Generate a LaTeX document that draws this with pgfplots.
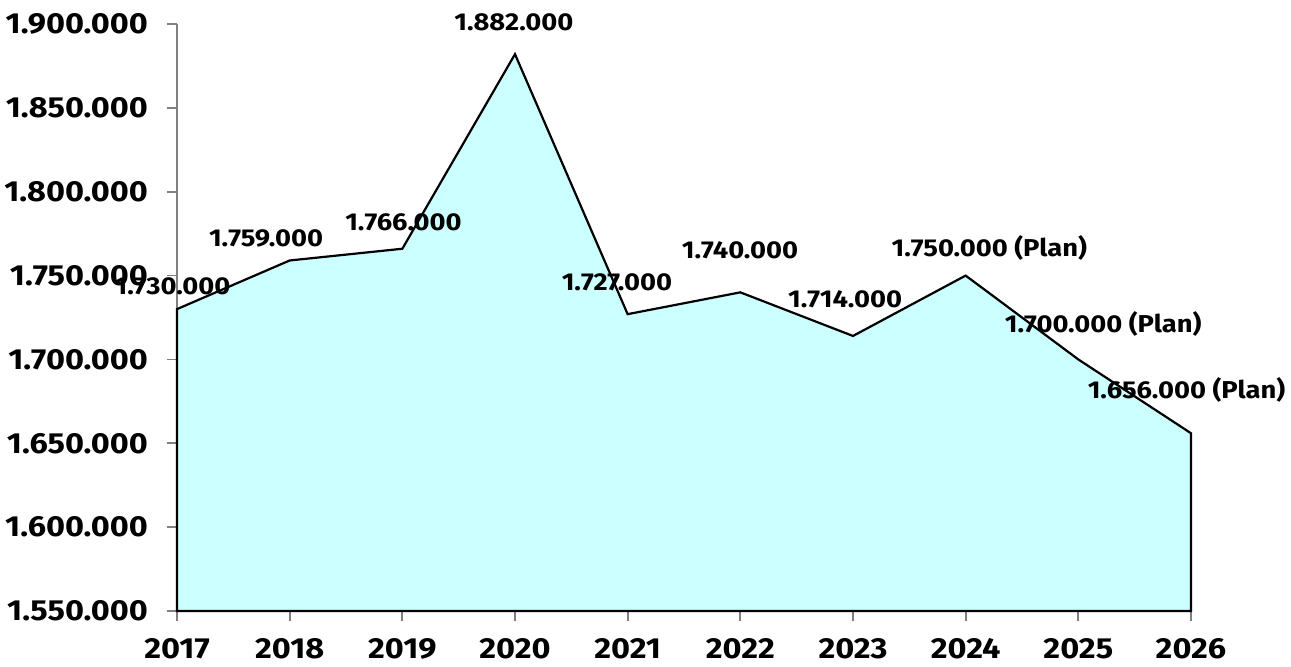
\documentclass[border=0pt]{standalone}
\usepackage{fontspec}
\setmainfont{Fira Sans}
\newfontfamily\labfont[FakeStretch=1.12]{Fira Sans}
\usepackage{pgfplots}
\pgfplotsset{compat=1.18}
\definecolor{areafill}{HTML}{CCFFFF}
\definecolor{axisgray}{HTML}{808080}
\begin{document}
\begin{tikzpicture}
\begin{axis}[
  scale only axis, width=507pt, height=293.5pt,
  at={(0,0)}, anchor=south west,
  xmin=2017, xmax=2026, ymin=1550000, ymax=1900000,
  scaled y ticks=false, scaled x ticks=false,
  axis lines*=left,
  axis line style={axisgray, line width=0.9pt},
  tick style={axisgray, line width=0.9pt},
  tick align=outside, major tick length=5pt,
  xtick={2017,2018,2019,2020,2021,2022,2023,2024,2025,2026},
  xticklabels={2017,2018,2019,2020,2021,2022,2023,2024,2025,2026},
  ytick={1550000,1600000,1650000,1700000,1750000,1800000,1850000,1900000},
  yticklabels={1.550.000,1.600.000,1.650.000,1.700.000,1.750.000,1.800.000,1.850.000,1.900.000},
  yticklabel style={font=\labfont\fontsize{14.5}{16}\selectfont\bfseries, xshift=-6pt},
  xticklabel style={font=\labfont\fontsize{14.5}{16}\selectfont\bfseries, yshift=-5pt},
  clip=false,
]
\addplot[fill=areafill, draw=black, line width=1.1pt, line join=miter] coordinates {
  (2017,1550000) (2017,1730000) (2018,1759000) (2019,1766000) (2020,1882000)
  (2021,1727000) (2022,1740000) (2023,1714000) (2024,1750000) (2025,1700000)
  (2026,1656000) (2026,1550000)
} -- cycle;
\addplot[draw=none, mark=none, nodes near coords, point meta=explicit symbolic,
  nodes near coords style={anchor=center, inner sep=0pt, font=\labfont\fontsize{12.2}{14}\selectfont\bfseries, text=black}]
coordinates {
  (2016.96,1743782) [1.730.000]
  (2017.79,1772400) [1.759.000]
  (2019.01,1781942) [1.766.000]
  (2019.99,1901192) [1.882.000]
  (2020.905,1746167) [1.727.000]
  (2021.997,1765247) [1.740.000]
  (2022.93,1736031) [1.714.000]
  (2024.21,1766440) [1.750.000 (Plan)]
  (2025.22,1721124) [1.700.000 (Plan)]
  (2025.96,1681772) [1.656.000 (Plan)]
};
\end{axis}
\pgfresetboundingbox
\path (-88.5pt,-27.5pt) rectangle (557pt,305.5pt);
\end{tikzpicture}
\end{document}
